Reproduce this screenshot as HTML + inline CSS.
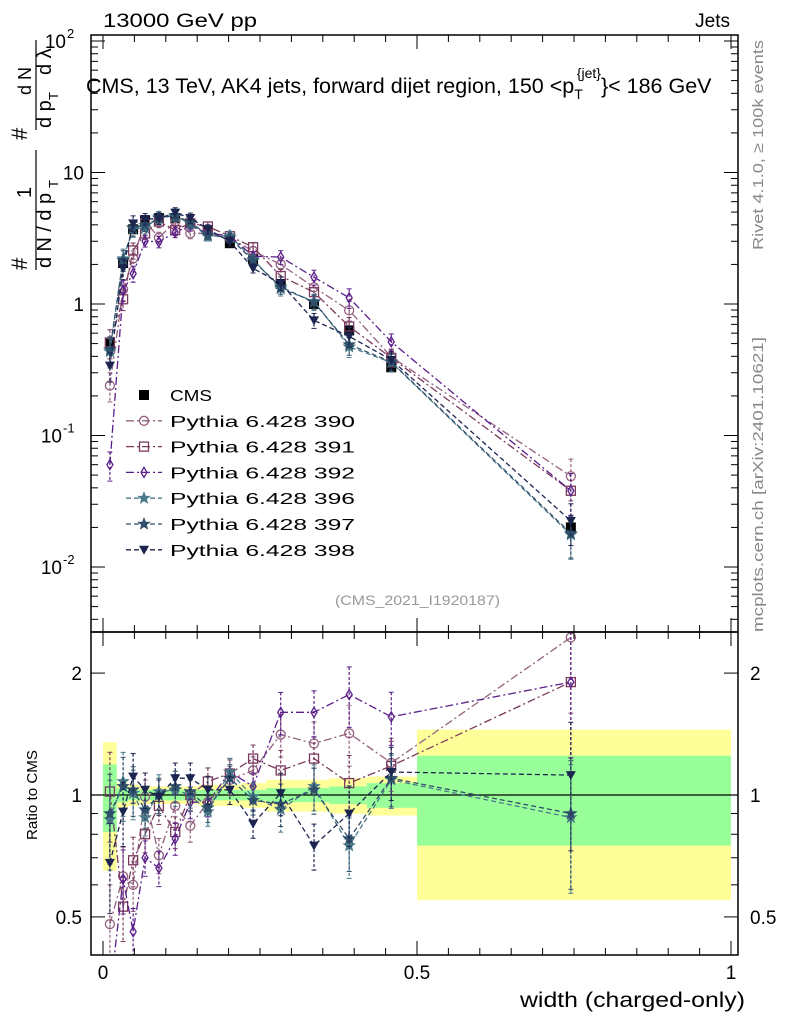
<!DOCTYPE html>
<html><head><meta charset="utf-8"><style>
body{margin:0;background:#fff;width:786px;height:1024px;overflow:hidden}
svg{font-family:"Liberation Sans",sans-serif}
</style></head><body>
<svg id="c" width="786" height="1024" xmlns="http://www.w3.org/2000/svg"></svg>
<script>
const xs=[0.011,0.032,0.048,0.067,0.089,0.115,0.139,0.167,0.202,0.239,0.283,0.336,0.392,0.459,0.745];
const edges=[0,0.022,0.04,0.057,0.078,0.1,0.127,0.153,0.183,0.22,0.26,0.31,0.36,0.42,0.5,1.0];
const cms=[0.50,2.05,3.7,4.3,4.5,4.5,4.1,3.6,2.9,2.2,1.42,1.0,0.63,0.33,0.020];
const bandIn=[0.19,0.04,0.03,0.03,0.03,0.03,0.03,0.03,0.03,0.03,0.04,0.04,0.05,0.07,0.25];
const bandOut=[0.35,0.07,0.06,0.05,0.05,0.05,0.05,0.06,0.06,0.07,0.09,0.09,0.10,0.11,0.45];
const r390=[0.48,0.63,0.60,0.99,0.71,0.94,0.84,0.96,1.09,1.15,1.41,1.34,1.42,1.20,2.45];
const r391=[1.02,0.53,0.69,0.80,0.94,0.81,1.00,1.08,1.13,1.23,1.15,1.23,1.07,1.18,1.90];
const r392=[0.12,0.62,0.46,0.70,0.66,0.78,0.96,0.96,1.14,1.05,1.60,1.60,1.77,1.56,1.90];
const r396=[0.87,1.08,1.01,0.88,1.02,1.03,1.00,0.91,1.14,0.99,0.92,1.05,0.75,1.09,0.88];
const r397=[0.90,1.05,1.03,0.92,1.00,1.05,1.02,0.93,1.10,0.97,0.95,1.03,0.78,1.10,0.90];
const r398=[0.68,0.91,1.11,1.03,0.99,1.10,1.10,1.03,1.03,0.85,1.01,0.75,0.90,1.14,1.12];
const relErr=[0.25,0.18,0.14,0.10,0.10,0.09,0.09,0.08,0.08,0.08,0.12,0.13,0.17,0.15,0.35];
const series=[
 {n:'Pythia 6.428 390',r:r390,c:'#93607f',m:'circle',d:'8 3 2 3'},
 {n:'Pythia 6.428 391',r:r391,c:'#7a3a5e',m:'square',d:'8 3 2 3'},
 {n:'Pythia 6.428 392',r:r392,c:'#5a1f8a',m:'diamond',d:'8 3 2 3'},
 {n:'Pythia 6.428 396',r:r396,c:'#4a7a8a',m:'star',d:'5 3'},
 {n:'Pythia 6.428 397',r:r397,c:'#2f4f6a',m:'star',d:'5 3'},
 {n:'Pythia 6.428 398',r:r398,c:'#1c2450',m:'tri',d:'5 3'}];
const NS='http://www.w3.org/2000/svg',S=document.getElementById('c');
function el(t,a,p){const e=document.createElementNS(NS,t);for(const k in a)e.setAttribute(k,a[k]);(p||S).appendChild(e);return e;}
const X=v=>103+v*628;
const Ym=v=>304-Math.log10(v)*131.5;
const Yr=v=>795-Math.log10(v)*405;
const L=91,R=738,T=35,M=632,B=955;
function clipY(y,top,bot){return Math.max(top,Math.min(bot,y));}
const gb=el('g',{});
for(let i=0;i<xs.length;i++){
 const x0=X(edges[i]),x1=X(edges[i+1]);
 let r=el('rect',{x:x0,y:Yr(1+bandOut[i]),width:x1-x0,height:Yr(1-bandOut[i])-Yr(1+bandOut[i]),fill:'#ffff99'},gb);
 
 r=el('rect',{x:x0,y:Yr(1+bandIn[i]),width:x1-x0,height:Yr(1-bandIn[i])-Yr(1+bandIn[i]),fill:'#99ff99'},gb);
 
}
el('line',{x1:L,x2:R,y1:Yr(1),y2:Yr(1),stroke:'#000','stroke-width':1.2});
function marker(g,m,x,y,c){
 let e;
 if(m==='circle')e=el('circle',{cx:x,cy:y,r:4.5,fill:'none',stroke:c,'stroke-width':1.3},g);
 else if(m==='square')e=el('rect',{x:x-4.5,y:y-4.5,width:9,height:9,fill:'none',stroke:c,'stroke-width':1.3},g);
 else if(m==='diamond')e=el('polygon',{points:`${x},${y-5} ${x+3},${y} ${x},${y+5} ${x-3},${y}`,fill:'none',stroke:c,'stroke-width':1.3},g);
 else if(m==='star'){let p=[];for(let k=0;k<10;k++){const a=-Math.PI/2+k*Math.PI/5,rr=k%2?2.5:6;p.push((x+rr*Math.cos(a)).toFixed(1)+','+(y+rr*Math.sin(a)).toFixed(1));}
  e=el('polygon',{points:p.join(' '),fill:c,stroke:c,'stroke-width':0.8},g);}
 else if(m==='tri')e=el('polygon',{points:`${x-5},${y-4} ${x+5},${y-4} ${x},${y+5}`,fill:c},g);
 else e=el('rect',{x:x-5,y:y-5,width:10,height:10,fill:'#000'},g);
 
}
function drawSeries(s,Yf,top,bot,ratio){
 const g=el('g',{});
 const vals=xs.map((x,i)=>ratio?s.r[i]:s.r[i]*cms[i]);
 const pts=xs.map((x,i)=>X(x).toFixed(1)+','+clipY(Yf(vals[i]),top-20,bot+40).toFixed(1));
 el('polyline',{points:pts.join(' '),fill:'none',stroke:s.c,'stroke-width':1.3,'stroke-dasharray':s.d},g);
 xs.forEach((x,i)=>{const v=vals[i],e=relErr[i];
  const y1=clipY(Yf(v*(1+e)),top,bot),y2=clipY(Yf(v*(1-e)),top,bot);
  if(y2>top&&y1<bot){el('line',{x1:X(x),x2:X(x),y1:y1,y2:y2,stroke:s.c,'stroke-width':1.2,'stroke-dasharray':'3 2'},g);
   el('line',{x1:X(x)-2.5,x2:X(x)+2.5,y1:y1,y2:y1,stroke:s.c},g);el('line',{x1:X(x)-2.5,x2:X(x)+2.5,y1:y2,y2:y2,stroke:s.c},g);}
  const y=Yf(v);if(y>top&&y<bot)marker(g,s.m,X(x),y,s.c);});
}
const cp=el('clipPath',{id:'cm'});el('rect',{x:L,y:T,width:R-L,height:M-T},cp);
const cr=el('clipPath',{id:'cr'});el('rect',{x:L,y:M,width:R-L,height:B-M},cr);
const gm=el('g',{'clip-path':'url(#cm)'});
const gc=el('g',{},gm);
xs.forEach((x,i)=>marker(gc,'sq',X(x),Ym(cms[i]),'#000'));
series.forEach(s=>{drawSeries(s,Ym,T,M,false);gm.appendChild(S.lastChild);});
const gr=el('g',{'clip-path':'url(#cr)'});
series.forEach(s=>{drawSeries(s,Yr,M,B,true);gr.appendChild(S.lastChild);});
el('rect',{x:L,y:T,width:R-L,height:M-T,fill:'none',stroke:'#000','stroke-width':1.5});
el('rect',{x:L,y:M,width:R-L,height:B-M,fill:'none',stroke:'#000','stroke-width':1.5});
for(let d=-3;d<=2;d++)for(let k=1;k<10;k++){const v=k*Math.pow(10,d),y=Ym(v);if(y<T||y>M)continue;const len=k===1?14:7;
 el('line',{x1:L,x2:L+len,y1:y,y2:y,stroke:'#000'});el('line',{x1:R-len,x2:R,y1:y,y2:y,stroke:'#000'});}
[0.5,0.6,0.7,0.8,0.9,1,2].forEach(v=>{const y=Yr(v),len=(v==1||v==2||v==0.5)?14:7;
 el('line',{x1:L,x2:L+len,y1:y,y2:y,stroke:'#000'});el('line',{x1:R-len,x2:R,y1:y,y2:y,stroke:'#000'});});
for(let v=0;v<=1.0001;v+=0.05){const x=X(v),len=(Math.abs(v*2-Math.round(v*2))<1e-6)?14:7;
 el('line',{x1:x,x2:x,y1:B,y2:B-len,stroke:'#000'});el('line',{x1:x,x2:x,y1:M,y2:M-len,stroke:'#000'});el('line',{x1:x,x2:x,y1:T,y2:T+len,stroke:'#000'});el('line',{x1:x,x2:x,y1:M,y2:M+len,stroke:'#000'});}
function txt(s,a,name,len){const t=el('text',a);t.textContent=s;
 if(len){t.setAttribute('textLength',len);t.setAttribute('lengthAdjust','spacingAndGlyphs');}return t;}
[2,1,0,-1,-2].forEach(p=>{const y=Ym(Math.pow(10,p));
 if(p===1)txt('10',{x:84,y:y+7,'text-anchor':'end','font-size':19},'y-tick-label');
 else if(p===0)txt('1',{x:84,y:y+7,'text-anchor':'end','font-size':19},'y-tick-label');
 else{txt('10',{x:p===2?66:62,y:y+7,'text-anchor':'end','font-size':19},'y-tick-label');
  txt(String(p),{x:p===2?67:63,y:y-3,'font-size':13},'y-tick-exponent');}});
[['2',2],['1',1],['0.5',0.5]].forEach(([s,v])=>{txt(s,{x:82,y:Yr(v)+7,'text-anchor':'end','font-size':19},'ratio-tick-label');txt(s,{x:750,y:Yr(v)+7,'font-size':19},'ratio-tick-label-right');});
[['0',0],['0.5',0.5],['1',1]].forEach(([s,v])=>txt(s,{x:X(v),y:979,'text-anchor':'middle','font-size':19},'x-tick-label'));
txt('width (charged-only)',{x:520,y:1007,'font-size':21},'x-axis-title',225);
txt('13000 GeV pp',{x:103,y:27,'font-size':19},'header-process',154);
txt('Jets',{x:730,y:27,'text-anchor':'end','font-size':19},'header-jets');
const tt=el('text',{x:86,y:93,'font-size':21.5});
tt.innerHTML='CMS, 13 TeV, AK4 jets, forward dijet region, 150 &lt;p<tspan dy="6" font-size="14">T</tspan><tspan dy="-21" dx="-6" font-size="14">{jet}</tspan><tspan dy="15">}&lt; 186 GeV</tspan>';
// y-axis title as rotated fraction
const ya=el('g',{transform:'translate(0,0)'});
txt('#',{transform:'translate(27,270) rotate(-90)','font-size':22},'y-title-hash');
txt('1',{transform:'translate(31,198) rotate(-90)','font-size':20},'y-title-one');
el('line',{x1:36,x2:36,y1:150,y2:270,stroke:'#000','stroke-width':1.2});
txt('d N / d p',{transform:'translate(51,268) rotate(-90)','font-size':20},'y-title-dn',75);
txt('T',{transform:'translate(58,188) rotate(-90)','font-size':13},'y-title-t');
txt('#',{transform:'translate(27,140) rotate(-90)','font-size':22},'y-title-hash2');
el('line',{x1:36,x2:36,y1:40,y2:130,stroke:'#000','stroke-width':1.2});
txt('d N',{transform:'translate(31,95) rotate(-90)','font-size':18},'y-title-d2n');
txt('d p',{transform:'translate(51,128) rotate(-90)','font-size':20},'y-title-dpt');
txt('T',{transform:'translate(58,100) rotate(-90)','font-size':13},'y-title-t2');
txt('d λ',{transform:'translate(51,75) rotate(-90)','font-size':20},'y-title-dl');
txt('Ratio to CMS',{transform:'translate(37,795) rotate(-90)','text-anchor':'middle','font-size':15},'ratio-axis-title',90);
txt('Rivet 4.1.0, ≥ 100k events',{transform:'translate(763,250) rotate(-90)','font-size':15,fill:'#888'},'rivet-label',210);
txt('mcplots.cern.ch [arXiv:2401.10621]',{transform:'translate(763,632) rotate(-90)','font-size':15,fill:'#888'},'mcplots-label',295);
txt('(CMS_2021_I1920187)',{x:335,y:605,'font-size':14,fill:'#999'},'analysis-id',165);
const lg=el('g',{});
const ents=[{n:'CMS',m:'sq',c:'#000'}].concat(series);
ents.forEach((e,i)=>{const y=395+i*25.8;const g=el('g',{},lg);
 if(e.d)el('line',{x1:126,x2:162,y1:y,y2:y,stroke:e.c,'stroke-width':1.3,'stroke-dasharray':e.d},g);
 marker(g,e.m,144,y,e.c);
 const t=el('text',{x:170,y:y+6,'font-size':16},g);t.textContent=e.n;
 t.setAttribute('textLength',i===0?42:185);t.setAttribute('lengthAdjust','spacingAndGlyphs');});
</script>
</body></html>
